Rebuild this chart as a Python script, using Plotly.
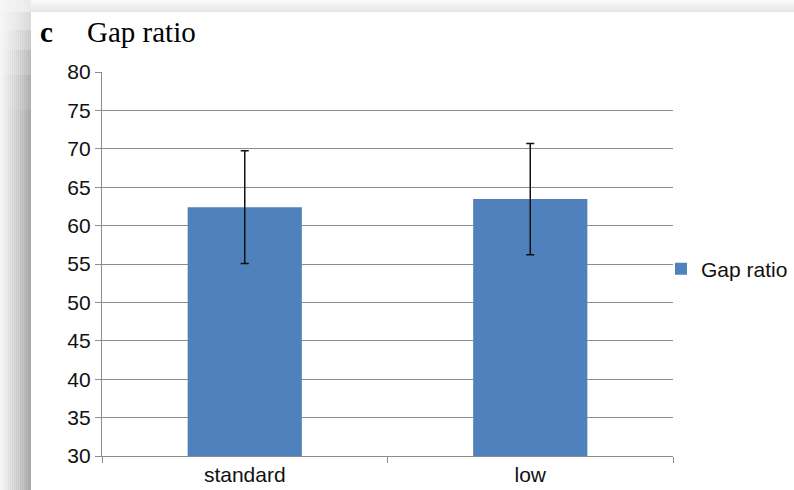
import plotly.graph_objects as go

categories = ["standard", "low"]
gap_ratio = [62.4, 63.45]
gap_err = [7.35, 7.25]
series_name = "Gap ratio"
y_ticks = [30, 35, 40, 45, 50, 55, 60, 65, 70, 75, 80]

W, H = 794, 490
L, R, T, B = 102, 673, 72, 456
pw, ph = R - L, B - T

def px_x(p):
    return (p - L) / pw

def px_y(p):
    return 1 - (p - T) / ph

fig = go.Figure()
fig.add_trace(go.Bar(
    x=categories, y=gap_ratio, name=series_name,
    marker=dict(color="#4f81bd", line=dict(width=0)),
    width=0.4,
    error_y=dict(type="data", array=gap_err, visible=True,
                 color="#111111", thickness=1.5, width=4),
    showlegend=True,
))

shapes = []
# left shadow gradient (decorative frame shadow)
n = 16
bands = [(0, 12, 0.15), (12, 30, 0.35), (30, 50, 0.55), (50, 75, 0.75), (75, 110, 0.9), (110, H, 1.0)]
for i in range(n):
    x0 = i * 31 / n
    x1 = (i + 1) * 31 / n
    t = i / (n - 1)
    for (ya, yb, f) in bands:
        g = int(246 - t * 80 * f)
        shapes.append(dict(type="rect", xref="paper", yref="paper",
                           x0=px_x(x0), x1=px_x(x1), y0=px_y(yb), y1=px_y(ya),
                           fillcolor=f"rgb({g},{g},{g})", line=dict(width=0), layer="below"))
# top shadow gradient
m = 6
for i in range(m):
    y0 = i * 12 / m
    y1 = (i + 1) * 12 / m
    t = i / (m - 1)
    g = int(250 - t * 18)
    shapes.append(dict(type="rect", xref="paper", yref="paper",
                       x0=px_x(31), x1=px_x(W), y0=px_y(y1), y1=px_y(y0),
                       fillcolor=f"rgb({g},{g},{g})", line=dict(width=0), layer="below"))

fig.update_layout(
    width=W, height=H,
    margin=dict(l=L, r=W - R, t=T, b=H - B, pad=0, autoexpand=False),
    paper_bgcolor="white", plot_bgcolor="white",
    font=dict(family="Liberation Sans, Arial, sans-serif", size=21, color="#111111"),
    shapes=shapes,
    xaxis=dict(
        type="category", showgrid=False, showline=True, linecolor="#8c8c8c", linewidth=1.3,
        ticks="outside", tickson="boundaries", ticklen=6, tickcolor="#8c8c8c", tickwidth=1.3,
        tickfont=dict(size=21), zeroline=False,
    ),
    yaxis=dict(
        range=[30, 80], tickvals=y_ticks, showgrid=True, gridcolor="#8c8c8c", gridwidth=1.3,
        showline=True, linecolor="#8c8c8c", linewidth=1.3,
        ticks="outside", ticklen=6, tickcolor="#8c8c8c", tickwidth=1.3,
        tickfont=dict(size=21), zeroline=False,
    ),
    legend=dict(x=px_x(661), y=px_y(269), xanchor="left", yanchor="middle",
                font=dict(size=21), bgcolor="rgba(0,0,0,0)", itemwidth=30),
    annotations=[
        dict(text="<b>c</b>", xref="paper", yref="paper", x=px_x(38), y=px_y(32),
             xanchor="left", yanchor="middle", showarrow=False,
             font=dict(family="Liberation Serif, Times New Roman, serif", size=29, color="#000000")),
        dict(text="Gap ratio", xref="paper", yref="paper", x=px_x(85), y=px_y(32),
             xanchor="left", yanchor="middle", showarrow=False,
             font=dict(family="Liberation Serif, Times New Roman, serif", size=29, color="#000000")),
    ],
)

fig.write_html("out.html", config={"displayModeBar": False},
               post_script="document.body.style.margin='0';document.body.style.overflow='hidden';")
